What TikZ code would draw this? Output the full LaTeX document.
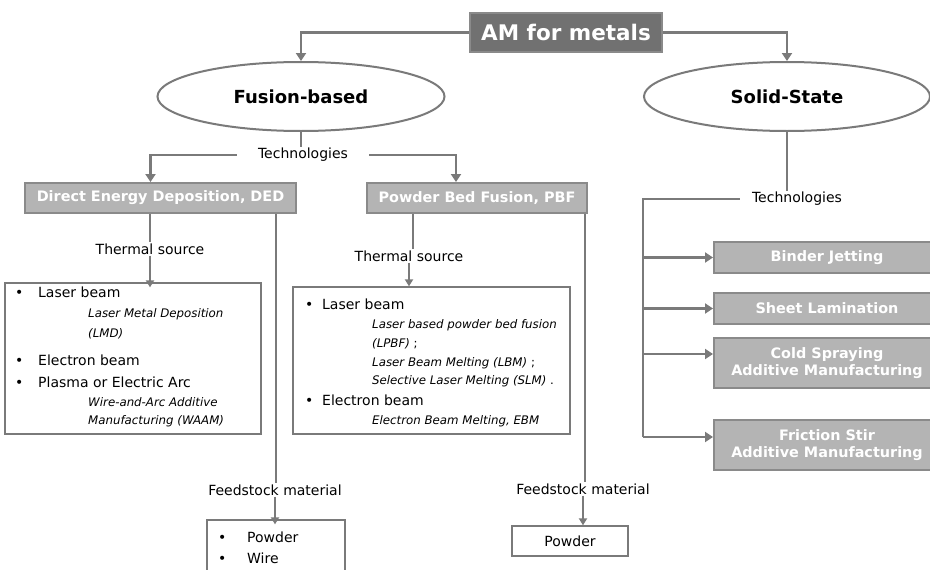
\documentclass[tikz,border=0pt]{standalone}
\usepackage{fontspec}
\setmainfont{DejaVu Sans}
\usetikzlibrary{positioning, shapes.geometric, arrows.meta}

\definecolor{linegray}{HTML}{7A7A7A}
\definecolor{rootgray}{HTML}{717171}
\definecolor{boxgray}{HTML}{B4B4B4}
\definecolor{edgegray}{HTML}{8A8A8A}

\newcommand{\itemdot}[1]{\makebox[#1][l]{•}}

\tikzset{
  conn/.style={draw=linegray, line width=2.4pt},
  arr/.style={conn, -{Triangle[width=10pt,length=8pt]}},
  smallarr/.style={draw=linegray, line width=1.8pt, -{Triangle[width=8pt,length=7pt]}},
  rootbox/.style={rectangle, fill=rootgray, draw=edgegray, line width=1.2pt, text=white,
    font=\bfseries\fontsize{21.5}{24}\selectfont, inner sep=0pt},
  techbox/.style={rectangle, fill=boxgray, draw=edgegray, line width=2pt, text=white,
    font=\bfseries\fontsize{14.4}{17}\selectfont, align=center, inner sep=0pt},
  groupellipse/.style={ellipse, draw=linegray, line width=2pt, fill=white,
    font=\bfseries\fontsize{18}{20}\selectfont, inner sep=0pt},
  steptext/.style={font=\fontsize{14}{16}\selectfont, inner sep=1pt},
  listbox/.style={rectangle, draw=linegray, line width=1.3pt, fill=white, inner sep=0pt},
  listitem/.style={anchor=base west, inner sep=0pt, font=\fontsize{14}{16}\selectfont},
  listnote/.style={anchor=base west, inner sep=0pt, font=\itshape\fontsize{11.8}{13}\selectfont},
}

\begin{document}
\begin{tikzpicture}[x=1pt, y=-1pt]
	\clip (0, 0) rectangle (930, 570);
	\fill[white] (0, 0) rectangle (930, 570);

	% top level
	\node[rootbox, minimum width=192pt, minimum height=39pt] (am) at (566, 32.5) {AM for metals};
	\node[groupellipse, minimum width=287pt, minimum height=69pt] (fusion) at (301, 96.5) {Fusion-based};
	\node[groupellipse, minimum width=286pt, minimum height=69pt] (solid) at (787, 96.5) {Solid-State};

	% fusion-based branch
	\node[steptext, inner xsep=21pt] (techF) at (303, 155) {Technologies};
	\node[techbox, minimum width=271pt, minimum height=30pt] (ded) at (160.5, 198) {Direct Energy Deposition, DED};
	\node[techbox, minimum width=220pt, minimum height=30pt] (pbf) at (477, 198) {Powder Bed Fusion, PBF};

	\node[steptext] (thermD) at (150, 249) {Thermal source};
	\node[steptext] (thermP) at (409, 256) {Thermal source};

	\node[listbox, minimum width=256pt, minimum height=151pt] (dedsrc) at (133, 358.5) {};
	\node[listitem] (d1) at (15, 297) {\itemdot{23pt}Laser beam};
	\node[listnote] (d2) at (88, 317) {Laser Metal Deposition};
	\node[listnote] (d3) at (88, 337) {(LMD)};
	\node[listitem] (d4) at (15, 365) {\itemdot{23pt}Electron beam};
	\node[listitem] (d5) at (15, 387) {\itemdot{23pt}Plasma or Electric Arc};
	\node[listnote] (d6) at (88, 406) {Wire-and-Arc Additive};
	\node[listnote] (d7) at (88, 424) {Manufacturing (WAAM)};

	\node[listbox, minimum width=277pt, minimum height=147pt] (pbfsrc) at (431.5, 360.5) {};
	\node[listitem] (p1) at (305, 309) {\itemdot{17pt}Laser beam};
	\node[listnote] (p2) at (372, 328) {Laser based powder bed fusion};
	\node[listnote] (p3) at (372, 347) {(LPBF)\upshape\ ;};
	\node[listnote] (p4) at (372, 366) {Laser Beam Melting (LBM)\upshape\ ;};
	\node[listnote] (p5) at (372, 384) {Selective Laser Melting (SLM)\upshape\ .};
	\node[listitem] (p6) at (305, 405) {\itemdot{17pt}Electron beam};
	\node[listnote] (p7) at (372, 424) {Electron Beam Melting, EBM};

	\node[steptext] (feedD) at (275, 490) {Feedstock material};
	\node[steptext] (feedP) at (583, 489) {Feedstock material};

	\node[listbox, minimum width=138pt, minimum height=70pt] (dedfeed) at (276, 555) {};
	\node[listitem] (f1) at (218, 542) {\itemdot{29pt}Powder};
	\node[listitem] (f2) at (218, 563) {\itemdot{29pt}Wire};
	\node[listbox, steptext, minimum width=116pt, minimum height=30pt] (pbffeed) at (570, 541) {Powder};

	% solid-state branch
	\node[steptext, inner xsep=12pt] (techS) at (797, 199) {Technologies};
	\node[techbox, minimum width=226pt, minimum height=31pt] (bj) at (827, 257.5) {Binder Jetting};
	\node[techbox, minimum width=226pt, minimum height=31pt] (sl) at (827, 308.5) {Sheet Lamination};
	\node[techbox, minimum width=226pt, minimum height=50pt] (csam) at (827, 363) {Cold Spraying\\Additive Manufacturing};
	\node[techbox, minimum width=226pt, minimum height=50pt] (fsam) at (827, 445) {Friction Stir\\Additive Manufacturing};
	\coordinate (bus) at (643, 0);

	% connectors
	\draw[arr] (am.west) -| (fusion.north);
	\draw[arr] (am.east) -| (solid.north);

	\draw[conn] (fusion.south) -- (fusion.south |- techF.north);
	\draw[arr] (techF.west) -| ([xshift=-10pt]ded.north);
	\draw[arr] (techF.east) -| ([xshift=-21pt]pbf.north);

	\draw[conn] (ded.south -| thermD) -- (thermD.north);
	\draw[smallarr] (thermD.south) -- ([yshift=-5pt]thermD |- dedsrc.north);
	\draw[conn] ([xshift=4pt]pbf.south -| thermP) -- ([xshift=4pt]thermP.north);
	\draw[smallarr] (thermP.south) -- (thermP |- pbfsrc.north);

	\draw[conn] ([xshift=-21pt]ded.south east) -- ([xshift=-21pt]ded.south east |- feedD.north);
	\draw[smallarr] (feedD.south) -- ([yshift=-5pt]feedD |- dedfeed.north);
	\draw[conn] ([xshift=-3pt]pbf.south east) -- ([xshift=-3pt]pbf.south east |- feedP.north);
	\draw[smallarr] (feedP.south) -- (feedP |- pbffeed.north);

	\draw[conn] (solid.south) -- (solid.south |- techS.north);
	\draw[conn] (techS.west) -| ([yshift=8pt]bus |- fsam.west);
	\foreach \b/\s in {bj/0, sl/0, csam/9, fsam/8}
		\draw[arr] ([yshift=\s pt]bus |- \b.west) -- ([yshift=\s pt]\b.west);
\end{tikzpicture}
\end{document}
